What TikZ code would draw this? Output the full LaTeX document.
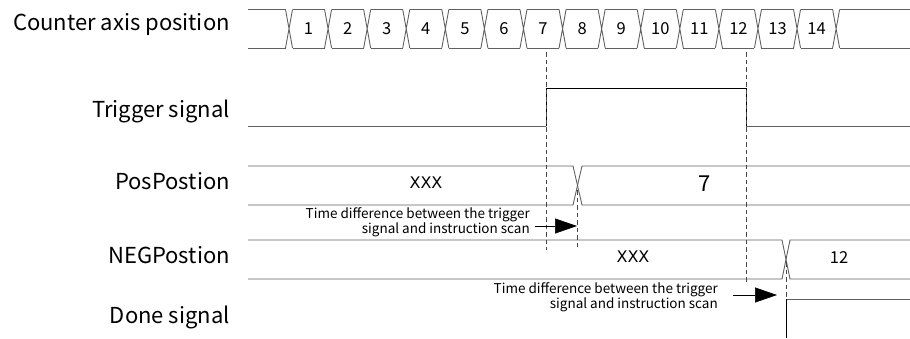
\documentclass[tikz,border=0pt]{standalone}
\usepackage{fontspec}
\setmainfont{Noto Sans CJK SC}
\newfontfamily\xfont{DejaVu Sans}
\usetikzlibrary{arrows.meta}

\begin{document}
\begin{tikzpicture}[x=1pt,y=-1pt,
        sig/.style={black!62,line width=0.9pt},
        guide/.style={black!72,line width=0.8pt,dash pattern=on 4.5pt off 3pt},
        lbl/.style={anchor=base east,inner sep=0pt,font=\fontsize{22}{25}\selectfont},
        num/.style={inner sep=0pt,font=\fontsize{16.5}{19}\selectfont},
        val/.style={inner sep=0pt,font=\xfont\fontsize{16}{19}\selectfont},
        note/.style={anchor=east,align=right,inner sep=0pt,font=\fontsize{13.5}{15}\selectfont},
        delay/.style={-{Triangle[length=22pt,width=15pt]},line width=0.7pt}]
    \useasboundingbox (0,0) rectangle (910,338);

    % signal names
    \node[lbl] (cnt) at (230,30) {Counter axis position};
    \node[lbl] (trg) at (230,117) {Trigger signal};
    \node[lbl] (pos) at (230,189) {PosPostion};
    \node[lbl] (neg) at (230,263) {NEGPostion};
    \node[lbl] (done) at (230,323) {Done signal};

    % counter axis bus
    \draw[sig] (248,9.5) -- (285.5,9.5) (248,48) -- (285.5,48);
    \foreach \k in {0,...,14} {
        \pgfmathsetmacro\cx{289+39.08*\k}
        \draw[sig] (\cx-3.5,9.5) -- (\cx+3.5,48) (\cx-3.5,48) -- (\cx+3.5,9.5);
    }
    \foreach \k in {1,...,14} {
        \pgfmathsetmacro\cx{289+39.08*(\k-1)}
        \draw[sig] (\cx+3.5,9.5) -- (\cx+35.58,9.5) (\cx+3.5,48) -- (\cx+35.58,48);
        \node[num] (n\k) at (\cx+19.54,29) {\k};
    }
    \draw[sig] (839.5,9.5) -- (910,9.5) (839.5,48) -- (910,48);

    % trigger
    \draw[sig] (248,126) -- (546,126);
    \draw[black,line width=0.9pt] (546,126) -- (546,88) -- (746,88) -- (746,126);
    \draw[sig] (746,126) -- (910,126);

    % pos / neg positions
    \draw[sig] (248,166) -- (573,166) -- (582,205) -- (910,205);
    \draw[sig] (248,205) -- (573,205) -- (582,166) -- (910,166);
    \node[val] (posx) at (426,183) {XXX};
    \node[num,font=\fontsize{22}{25}\selectfont] (pos7) at (705,184) {7};

    \draw[sig] (248,240) -- (782,240) -- (790,279) -- (910,279);
    \draw[sig] (248,279) -- (782,279) -- (790,240) -- (910,240);
    \node[val] (negx) at (633,257) {XXX};
    \node[num] (neg12) at (839,258) {12};

    % done
    \draw[sig] (786,299) -- (910,299);
    \draw[black,line width=0.9pt] (786,299) -- (786,338);

    % guides
    \draw[guide] (546,52) -- (546,250);
    \draw[guide] (746,52) -- (746,283);
    \draw[guide] (577.5,190) -- (577.5,248);
    \draw[guide] (786,262) -- (786,299);

    % delays
    \coordinate (d1a) at (535,226);
    \coordinate (d1b) at (577,226);
    \coordinate (d2a) at (733,295);
    \coordinate (d2b) at (777,295);
    \draw[delay] (d1a) -- (d1b);
    \draw[delay] (d2a) -- (d2b);
    \node[note] (t1) at (530,222) {Time difference between the trigger\\signal and instruction scan};
    \node[note] (t2) at (718,297) {Time difference between the trigger\\signal and instruction scan};
\end{tikzpicture}
\end{document}
